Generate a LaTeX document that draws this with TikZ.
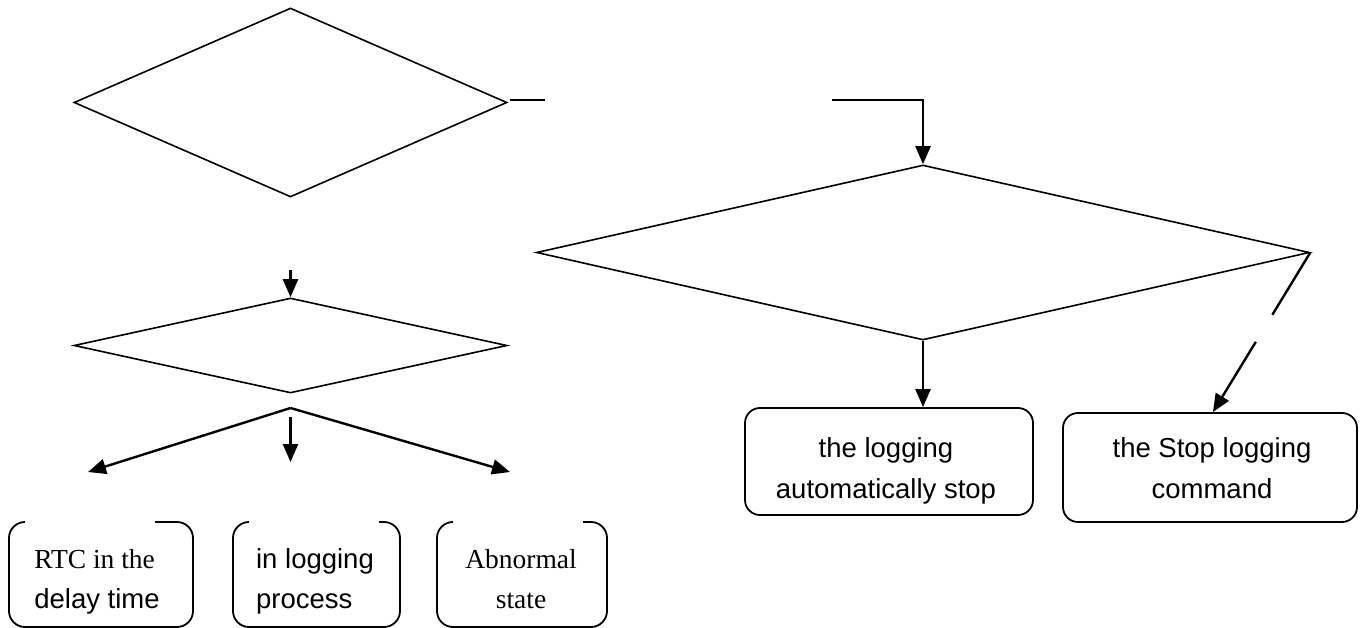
\documentclass[tikz,border=0pt]{standalone}
\usepackage{fontspec}
\setmainfont{Liberation Serif}
\setsansfont{Liberation Sans}
\usetikzlibrary{shapes.geometric,arrows.meta,calc}

\tikzset{
  dia/.style={draw, shape=diamond, inner sep=0pt, line width=1.6pt},
  conn/.style={line width=2.4pt},
  arr/.style={conn, -{Triangle[length=18pt,width=15pt]}},
  rbox/.style={draw, rounded corners=15pt, line width=1.8pt, inner sep=0pt},
  openbox/.style={line width=1.8pt, rounded corners=16pt},
  bigtxt/.style={font=\sffamily\fontsize{27.5}{41}\selectfont, align=center, inner sep=0pt},
  lowtxt/.style={font=\fontsize{27.5}{40}\selectfont, inner sep=0pt},
}

\begin{document}
\begin{tikzpicture}[x=1pt, y=-1pt]
\useasboundingbox (0,0) rectangle (1360,628);

% decision diamonds
\node[dia, minimum width=433pt, minimum height=189pt] (d1) at (290.5,102.5) {};
\node[dia, minimum width=433pt, minimum height=95pt]  (d2) at (290.5,345.5) {};
\node[dia, minimum width=773pt, minimum height=175pt] (d3) at (923,252.5) {};

% result boxes on the right
\node[rbox, minimum width=288pt, minimum height=107pt] (r1) at (889,461.5) {};
\node[rbox, minimum width=294pt, minimum height=109pt] (r2) at (1210,467.5) {};
\node[bigtxt] (t1) at (886,470.5) {the logging\\automatically stop};
\node[bigtxt] (t2) at (1212,468.5) {the Stop logging\\command};

% connector from d1 to d3, broken where its label sits
\coordinate (c1a) at (510,100);
\coordinate (c1b) at (545,100);
\coordinate (c1c) at (832,100);
\draw[conn] (c1a) -- (c1b);
\draw[arr] (c1c) -| (d3.north);

% outcomes of d3
\draw[arr] (d3.south) -- (d3.south |- r1.north);
\coordinate (r2in) at ($(r2.north west)!0.51!(r2.north east)$);
\coordinate (g1) at ($(d3.east)!0.39!(r2in)$);
\coordinate (g2) at ($(d3.east)!0.56!(r2in)$);
\draw[conn] (d3.east) -- (g1);
\draw[arr] (g2) -- (r2in);

% into d2
\coordinate (in2) at (290.5,270);
\draw[arr] (in2) -- (d2.north);

% three branches below d2
\coordinate (apex) at (290.5,408);
\coordinate (bl) at (88,472);
\coordinate (br) at (510,472);
\coordinate (bm1) at (290.5,417);
\coordinate (bm2) at (290.5,462);
\draw[arr] (apex) -- (bl);
\draw[arr] (apex) -- (br);
\draw[arr] (bm1) -- (bm2);

% state boxes at the bottom, top edges partly open
\draw[openbox] (155,522) -- (193,522) -- (193,627) -- (9,627) -- (9,522) -- (25,522);
\draw[openbox] (379,522) -- (400,522) -- (400,627) -- (233,627) -- (233,522) -- (249,522);
\draw[openbox] (583,522) -- (607,522) -- (607,627) -- (437,627) -- (437,522) -- (453,522);

\node[lowtxt, align=left] (s1) at (97,581.5) {RTC in the\\\sffamily delay time};
\node[lowtxt, font=\sffamily\fontsize{27.5}{40}\selectfont, align=left] (s2) at (315,581) {in logging\\process};
\node[lowtxt, align=center] (s3) at (521,578.6) {Abnormal\\state};
\end{tikzpicture}
\end{document}
